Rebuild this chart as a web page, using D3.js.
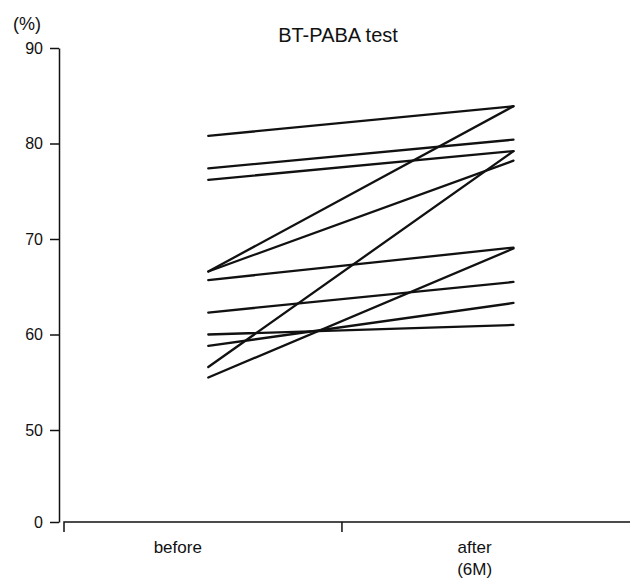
<!doctype html>
<html lang="en">
<head>
<meta charset="utf-8">
<title>BT-PABA test</title>
<script src="https://d3js.org/d3.v7.min.js"></script>
<style>
body { margin: 0; background: #fff; }
svg { display: block; }
text { font-family: 'Liberation Sans', Arial, sans-serif; fill: #111; }
.axis path, .axis line { stroke: #111; stroke-width: 1.5; fill: none; }
.axis text { font-size: 16px; }
.pair { stroke: #111; stroke-width: 2.3; fill: none; stroke-linecap: round; }
</style>
</head>
<body>
<svg width="640" height="579"></svg>
<script>
// BT-PABA excretion (%), one value per patient
const groups = ['before', 'after'];
const groupLabels = [['before'], ['after', '(6M)']];
const beforeValues = [80.8, 77.4, 76.2, 66.6, 66.6, 65.7, 62.3, 60.0, 58.8, 56.6, 55.5];
const afterValues  = [83.9, 80.4, 79.2, 83.9, 78.2, 69.1, 65.5, 61.0, 63.3, 79.2, 69.0];
const yTicks = [0, 50, 60, 70, 80, 90];

const svg = d3.select('svg');

// broken y axis: 0..50 squeezed, 50..90 wide
const y = d3.scaleLinear()
  .domain([0, 50, 90])
  .range([522, 430, 48]);

// x: 0 = left end, 1 = middle tick
const x = d3.scaleLinear()
  .domain([0, 2.04])
  .range([64, 630]);

const groupX = { before: 0.52, after: 1.62 };   // where the lines end
const labelX = { before: 0.41, after: 1.48 };   // where the labels sit

// y axis
const yAxis = svg.append('g')
  .attr('class', 'axis')
  .attr('transform', 'translate(59,0)')
  .call(d3.axisLeft(y)
    .tickValues(yTicks)
    .tickSize(9)
    .tickSizeOuter(0)
    .tickPadding(7));

// x axis (only the middle tick)
const xAxis = svg.append('g')
  .attr('class', 'axis')
  .attr('transform', 'translate(0,522)')
  .call(d3.axisBottom(x)
    .tickValues([1])
    .tickSize(10)
    .tickSizeOuter(0)
    .tickFormat(''));
xAxis.select('.domain').remove();
xAxis.append('path')
  .attr('d', `M${x(0)},10V0H${x(2.04)}`);

groups.forEach((g, i) => {
  svg.append('text')
    .attr('x', x(labelX[g]))
    .attr('y', 553)
    .attr('text-anchor', 'middle')
    .style('font-size', '17px')
    .selectAll('tspan')
    .data(groupLabels[i])
    .join('tspan')
    .attr('x', x(labelX[g]))
    .attr('dy', (d, j) => j === 0 ? 0 : 22)
    .text(d => d);
});

// paired lines
const pairs = beforeValues.map((b, i) => ({ before: b, after: afterValues[i] }));
svg.append('g')
  .selectAll('line')
  .data(pairs)
  .join('line')
  .attr('class', 'pair')
  .attr('x1', x(groupX.before))
  .attr('y1', d => y(d.before))
  .attr('x2', x(groupX.after))
  .attr('y2', d => y(d.after));

svg.append('text')
  .attr('x', 13)
  .attr('y', 30)
  .style('font-size', '18px')
  .text('(%)');

svg.append('text')
  .attr('x', 338)
  .attr('y', 42)
  .attr('text-anchor', 'middle')
  .style('font-size', '20px')
  .text('BT-PABA test');
</script>
</body>
</html>
